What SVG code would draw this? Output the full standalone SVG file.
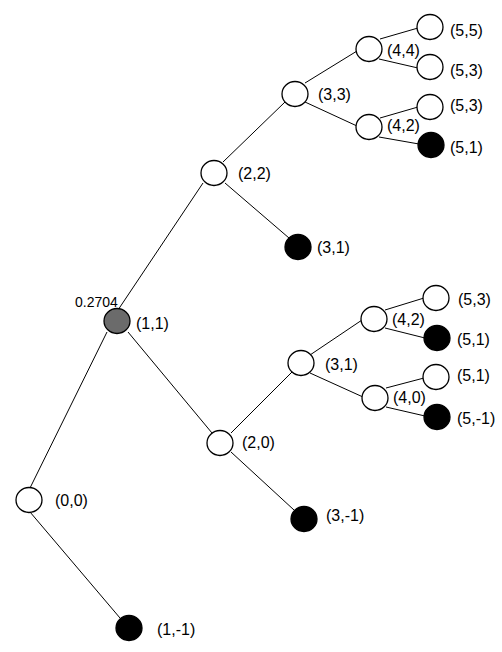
<svg xmlns="http://www.w3.org/2000/svg" width="502" height="652" viewBox="0 0 502 652">
<style>
.e{stroke:#000;stroke-width:1}
.w{fill:#fff;stroke:#000;stroke-width:1.3}
.b{fill:#000;stroke:#000;stroke-width:1.3}
.g{fill:#6b6b6b;stroke:#000;stroke-width:1.3}
text{font-family:"Liberation Sans",Arial,sans-serif;font-size:16px;fill:#000}
.s{font-size:14px}
</style>
<rect width="502" height="652" fill="#fff"/>
<g id="connectors" class="e">
<line x1="30" y1="488" x2="107" y2="332"/>
<line x1="30" y1="512" x2="120" y2="618"/>
<line x1="118" y1="310" x2="203" y2="183"/>
<line x1="128" y1="332" x2="212" y2="433"/>
<line x1="223" y1="162" x2="285" y2="102"/>
<line x1="225" y1="183" x2="289" y2="238"/>
<line x1="305" y1="83" x2="357" y2="51"/>
<line x1="305" y1="102" x2="357" y2="126"/>
<line x1="380" y1="39" x2="418" y2="28"/>
<line x1="379" y1="59" x2="418" y2="68"/>
<line x1="380" y1="118" x2="418" y2="107"/>
<line x1="379" y1="137" x2="419" y2="144"/>
<line x1="231" y1="433" x2="292" y2="372"/>
<line x1="231" y1="452" x2="294" y2="510"/>
<line x1="310" y1="355" x2="362" y2="320"/>
<line x1="310" y1="373" x2="363" y2="397"/>
<line x1="385" y1="310" x2="424" y2="298"/>
<line x1="385" y1="328" x2="425" y2="338"/>
<line x1="386" y1="388" x2="424" y2="378"/>
<line x1="386" y1="407" x2="425" y2="416"/>
</g>
<g id="n00"><ellipse class="w" cx="29" cy="500" rx="13" ry="12.5"/><text x="55" y="506">(0,0)</text></g>
<g id="n1m1"><ellipse class="b" cx="129" cy="628" rx="13" ry="12.5"/><text x="157" y="635">(1,-1)</text></g>
<g id="n11"><ellipse class="g" cx="117" cy="321" rx="13" ry="12.5"/><text x="136" y="329">(1,1)</text><text class="s" x="75" y="307">0.2704</text></g>
<g id="n22"><ellipse class="w" cx="214" cy="173" rx="13" ry="12.5"/><text x="238" y="179">(2,2)</text></g>
<g id="n31u"><ellipse class="b" cx="298" cy="247" rx="13" ry="12.5"/><text x="317" y="253">(3,1)</text></g>
<g id="n33"><ellipse class="w" cx="295" cy="94" rx="13" ry="12.5"/><text x="318" y="100">(3,3)</text></g>
<g id="n44"><ellipse class="w" cx="369" cy="49" rx="13" ry="12.5"/><text x="387" y="56">(4,4)</text></g>
<g id="n55"><ellipse class="w" cx="430" cy="27" rx="13" ry="12.5"/><text x="450" y="36">(5,5)</text></g>
<g id="n53a"><ellipse class="w" cx="430" cy="67" rx="13" ry="12.5"/><text x="450" y="76">(5,3)</text></g>
<g id="n42a"><ellipse class="w" cx="369" cy="127" rx="13" ry="12.5"/><text x="387" y="131">(4,2)</text></g>
<g id="n53b"><ellipse class="w" cx="430" cy="107" rx="13" ry="12.5"/><text x="450" y="111">(5,3)</text></g>
<g id="n51a"><ellipse class="b" cx="431" cy="145" rx="13" ry="12.5"/><text x="450" y="153">(5,1)</text></g>
<g id="n20"><ellipse class="w" cx="220" cy="443" rx="13" ry="12.5"/><text x="242" y="448">(2,0)</text></g>
<g id="n3m1"><ellipse class="b" cx="304" cy="519" rx="13" ry="12.5"/><text x="326" y="521">(3,-1)</text></g>
<g id="n31"><ellipse class="w" cx="301" cy="363" rx="13" ry="12.5"/><text x="325" y="370">(3,1)</text></g>
<g id="n42"><ellipse class="w" cx="374" cy="319" rx="13" ry="12.5"/><text x="392" y="325">(4,2)</text></g>
<g id="n53"><ellipse class="w" cx="436" cy="298" rx="13" ry="12.5"/><text x="458" y="305">(5,3)</text></g>
<g id="n51b"><ellipse class="b" cx="437" cy="338" rx="13" ry="12.5"/><text x="457" y="345">(5,1)</text></g>
<g id="n40"><ellipse class="w" cx="375" cy="398" rx="13" ry="12.5"/><text x="393" y="403">(4,0)</text></g>
<g id="n51w"><ellipse class="w" cx="436" cy="377" rx="13" ry="12.5"/><text x="457" y="381">(5,1)</text></g>
<g id="n5m1"><ellipse class="b" cx="437" cy="417" rx="13" ry="12.5"/><text x="457" y="424">(5,-1)</text></g>
</svg>
